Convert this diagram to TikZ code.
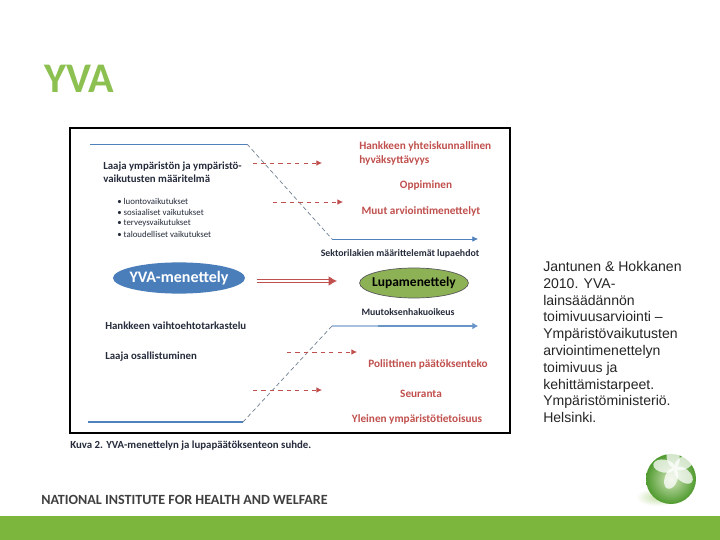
\documentclass[tikz,border=0pt]{standalone}
\usepackage{fontspec}
\setmainfont{Liberation Sans}
\newfontfamily\figfont{Carlito}
\usetikzlibrary{arrows.meta,shapes.geometric}
\definecolor{slidegreen}{HTML}{7DB63D}
\definecolor{titlegreen}{HTML}{8CC152}
\definecolor{flowblue}{HTML}{4F81BD}
\definecolor{ovalblue}{HTML}{4A7EBB}
\definecolor{ovalgreen}{HTML}{8DB255}
\definecolor{textred}{HTML}{C0504D}
\definecolor{textdark}{HTML}{262C3C}
\definecolor{ballgreen}{HTML}{4F9A2E}
\tikzset{
  figtext/.style={font=\figfont\bfseries\fontsize{7.7}{9.3}\selectfont,text=textdark,inner sep=0pt},
  smalltext/.style={font=\figfont\fontsize{6.3}{7}\selectfont,text=textdark,inner sep=0pt,anchor=west},
  redtext/.style={font=\figfont\bfseries\fontsize{8}{10}\selectfont,text=textred,inner sep=0pt},
  flowline/.style={flowblue,line width=0.5pt},
  flowdash/.style={gray!70!flowblue,densely dashed,line width=0.5pt},
  reddash/.style={textred,dashed,line width=0.6pt,-{Latex[length=4pt,width=4pt]}},
}
\begin{document}
\begin{tikzpicture}[x=0.25mm,y=-0.25mm,>=Latex]
  \useasboundingbox (0,0) rectangle (720,540);
  \fill[white] (0,0) rectangle (720,540);
  \fill[slidegreen] (0,516) rectangle (720,540);
  \node[anchor=west,inner sep=0pt,text=titlegreen,font=\figfont\bfseries\fontsize{30}{32}\selectfont] (title) at (44,79) {YVA};
  \draw[black,line width=1.1pt] (70,128) rectangle (510,433);

  \coordinate (topstart) at (90,144);
  \coordinate (topbend) at (247,144);
  \coordinate (topknee) at (332,239);
  \coordinate (topend) at (478,239);
  \draw[flowline] (topstart) -- (topbend);
  \draw[flowdash] (topbend) -- (topknee);
  \draw[flowline,-{Latex[length=4pt,width=4pt]}] (topknee) -- (topend);

  \coordinate (lowstart) at (88,422);
  \coordinate (lowbend) at (243,422);
  \coordinate (lowknee) at (332,326);
  \coordinate (lowmid) at (378,326);
  \coordinate (lowend) at (478,326);
  \draw[flowblue,line width=2pt] (lowstart) -- (lowbend);
  \draw[flowdash] (lowbend) -- (lowknee);
  \draw[flowblue!50,line width=1.5pt] (lowknee) -- (lowmid);
  \draw[flowblue!85,line width=1.5pt,-{Latex[length=4pt,width=5pt]}] (lowmid) -- (lowend);

  \foreach \name/\xa/\xb/\ya in {ra/253/322/163,rb/273/343/202,rc/287/357/352,rd/253/322/390}{
    \coordinate (\name s) at (\xa,\ya);
    \coordinate (\name e) at (\xb,\ya);
    \draw[reddash] (\name s) -- (\name e);
  }

  \node[figtext,anchor=west,align=left] (wide) at (103,172.5) {Laaja ympäristön ja ympäristö-\\vaikutusten määritelmä};
  \foreach \name/\ya/\txt in {ba/201/luontovaikutukset,bb/212/sosiaaliset vaikutukset,bc/223/terveysvaikutukset,bd/234/taloudelliset vaikutukset}{
    \node[smalltext] (\name) at (117,\ya) {\textbullet\ \txt};
  }

  \node[ellipse,fill=ovalblue,minimum width=33mm,minimum height=7.8mm,inner sep=-5pt,text=white,font=\figfont\bfseries\fontsize{11.4}{12}\selectfont] (yva) at (179,278) {YVA-menettely};
  \node[ellipse,fill=ovalgreen,draw=black!65,line width=0.5pt,minimum width=27.2mm,minimum height=7.5mm,inner sep=-5pt,text=black,font=\figfont\bfseries\fontsize{9.6}{10}\selectfont] (lupa) at (414,283) {Lupamenettely};
  \coordinate (dbls) at (257,281);
  \coordinate (dble) at (337,281);
  \draw[textred,double=white,double distance=1pt,line width=0.8pt,-{Latex[length=6pt,width=7pt]}] (dbls) -- (dble);

  \node[redtext,anchor=west,align=left] (hank) at (359,153) {Hankkeen yhteiskunnallinen\\hyväksyttävyys};
  \node[redtext] (opp) at (426,185) {Oppiminen};
  \node[redtext] (muut) at (421,211) {Muut arviointimenettelyt};
  \node[figtext,font=\figfont\bfseries\fontsize{7}{8}\selectfont] (sekt) at (400,254) {Sektorilakien määrittelemät lupaehdot};
  \node[figtext,font=\figfont\bfseries\fontsize{7}{8}\selectfont] (muutos) at (408,312) {Muutoksenhakuoikeus};
  \node[redtext] (pol) at (428,364) {Poliittinen päätöksenteko};
  \node[redtext] (seur) at (421,394) {Seuranta};
  \node[redtext] (yleinen) at (417,419) {Yleinen ympäristötietoisuus};
  \node[figtext,anchor=west] (vaihto) at (105,326) {Hankkeen vaihtoehtotarkastelu};
  \node[figtext,anchor=west] (osall) at (105,357) {Laaja osallistuminen};
  \node[figtext,anchor=west,font=\figfont\bfseries\fontsize{7.7}{8}\selectfont] (kuva) at (70,446) {Kuva 2. YVA-menettelyn ja lupapäätöksenteon suhde.};

  \node[anchor=north west,inner sep=0pt,align=left,text=black!85,font=\fontsize{10}{11.95}\selectfont] (cite) at (543,261) {Jantunen \& Hokkanen\\2010. YVA-\\lainsäädännön\\toimivuusarviointi --\\Ympäristövaikutusten\\arviointimenettelyn\\toimivuus ja\\kehittämistarpeet.\\Ympäristöministeriö.\\Helsinki.};
  \node[anchor=west,inner sep=0pt,text=black!75,font=\figfont\bfseries\fontsize{10}{12}\selectfont] (inst) at (41,500) {NATIONAL INSTITUTE FOR HEALTH AND WELFARE};

  \shade[inner color=slidegreen!45,outer color=white] (657,497) ellipse (21 and 9);
  \shade[inner color=slidegreen!35,outer color=ballgreen] (671,479) circle (25);
  \foreach \ang in {100,170,30,-40,-110}{
    \fill[white,opacity=0.75,rotate around={\ang:(675,468)}] (686,468) ellipse (11 and 6.5);
  }
\end{tikzpicture}
\end{document}
